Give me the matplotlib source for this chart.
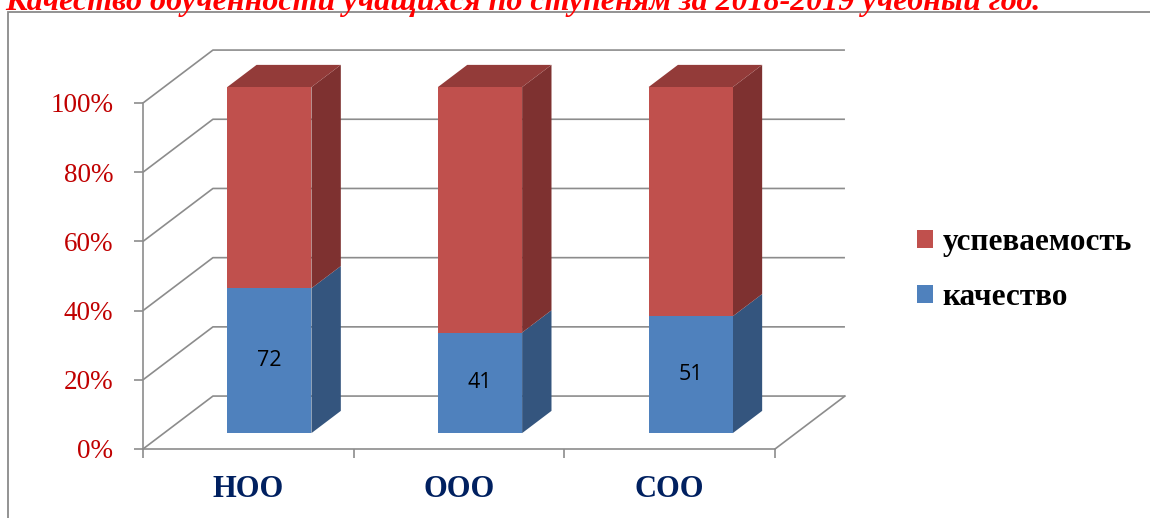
import matplotlib
matplotlib.use('Agg')
import matplotlib.pyplot as plt
from matplotlib.patches import Polygon, Patch, Rectangle

# данные
categories = ['НОО', 'ООО', 'СОО']
kachestvo = [72, 41, 51]
uspevaemost = [100, 100, 100]
y_ticks = [0, 20, 40, 60, 80, 100]
title = 'Качество обученности учащихся по ступеням за 2018-2019 учебный год.'

# цвета
blue_front, blue_side = '#4F81BD', '#34557E'
red_front, red_side, red_top = '#C0504D', '#7E3130', '#933B39'
grid_col = '#8C8C8C'

# смещение глубины (псевдо-3D)
DX, DY = 0.332, 15.3
Z0, Z1 = 0.30, 0.72
HALF_W = 0.2

fig = plt.figure(figsize=(11.5, 5.18), dpi=100)
ax = fig.add_axes([143 / 1150, (518 - 449) / 518, (775 - 143) / 1150, (449 - 103) / 518])
ax.set_xlim(0, len(categories))
ax.set_ylim(0, 100)
ax.set_facecolor('none')

# рамка диаграммы
fig.patches.append(Rectangle((8 / 1150, -0.1), 2, (518 - 12) / 518 + 0.1,
                             transform=fig.transFigure, fill=False,
                             edgecolor='#8A8A8A', linewidth=1.3))

# сетка: боковая стенка + задняя стенка
n = len(categories)
for t in y_ticks:
    ax.plot([0, DX, n + DX], [t, t + DY, t + DY], color=grid_col, lw=1.2,
            clip_on=False, zorder=1, solid_capstyle='butt')
ax.plot([n, n + DX], [0, DY], color=grid_col, lw=1.2, clip_on=False, zorder=1)

for s in ['top', 'right']:
    ax.spines[s].set_visible(False)
for s in ['left', 'bottom']:
    ax.spines[s].set_color(grid_col)
    ax.spines[s].set_linewidth(1.2)

ax.set_yticks(y_ticks)
ax.set_yticklabels([f'{v}%' for v in y_ticks], family='Liberation Serif',
                   color='#C00000', fontsize=19.5)
ax.tick_params(axis='y', direction='out', length=6.5, width=1.2, color=grid_col, pad=15)

ax.set_xticks(range(n + 1))
ax.set_xticklabels([])
ax.set_xticks([i + 0.5 for i in range(n)], minor=True)
ax.set_xticklabels(categories, minor=True, family='Liberation Serif', weight='bold',
                   color='#002060', fontsize=22)
ax.tick_params(axis='x', which='major', direction='out', length=6.5, width=1.2, color=grid_col)
ax.tick_params(axis='x', which='minor', length=0, pad=19)


def proj(x, y, z):
    return (x + z * DX, y + z * DY)


for i in range(n):
    total = kachestvo[i] + uspevaemost[i]
    pb = kachestvo[i] / total * 100
    xl, xr = i + 0.5 - HALF_W, i + 0.5 + HALF_W
    for y0, y1, fc, sc in [(0, pb, blue_front, blue_side), (pb, 100, red_front, red_side)]:
        side = [proj(xr, y0, Z0), proj(xr, y0, Z1), proj(xr, y1, Z1), proj(xr, y1, Z0)]
        front = [proj(xl, y0, Z0), proj(xr, y0, Z0), proj(xr, y1, Z0), proj(xl, y1, Z0)]
        ax.add_patch(Polygon(side, closed=True, facecolor=sc, edgecolor='none',
                             clip_on=False, zorder=3))
        ax.add_patch(Polygon(front, closed=True, facecolor=fc, edgecolor='none',
                             clip_on=False, zorder=4))
    top = [proj(xl, 100, Z0), proj(xr, 100, Z0), proj(xr, 100, Z1), proj(xl, 100, Z1)]
    ax.add_patch(Polygon(top, closed=True, facecolor=red_top, edgecolor='none',
                         clip_on=False, zorder=3))
    lx, ly = proj(i + 0.5, pb / 2, Z0)
    ax.text(lx, ly, str(kachestvo[i]), ha='center', va='center', fontsize=15.5,
            family='Open Sans', color='black', zorder=5)

# легенда
handles = [Patch(facecolor=red_front, label='успеваемость'),
           Patch(facecolor=blue_front, label='качество')]
fig.legend(handles=handles, loc='center left', bbox_to_anchor=(917 / 1150, 1 - 270 / 518),
           frameon=False, borderpad=0, borderaxespad=0, handlelength=0.52,
           handleheight=0.52, handletextpad=0.3, labelspacing=0.82,
           prop={'family': 'Liberation Serif', 'weight': 'bold', 'size': 22.5})

# заголовок (обрезан сверху, как в оригинале)
fig.text(5 / 1150, 1 - 10 / 518, title, ha='left', va='baseline', color='#FF0000',
         family='Liberation Serif', weight='bold', style='italic', fontsize=23)

fig.savefig('out.png', dpi=100)
